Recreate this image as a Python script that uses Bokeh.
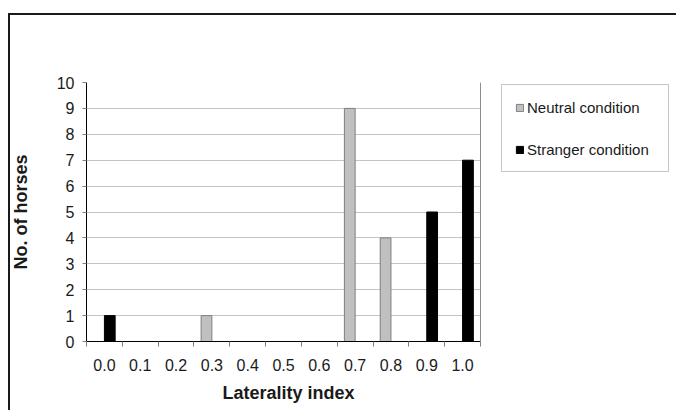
import numpy as np
from bokeh.plotting import figure
from bokeh.models import (ColumnDataSource, FixedTicker, Legend, LegendItem, Range1d, LinearAxis,
                          Span, BoxAnnotation, Title)
from bokeh.embed import file_html
from bokeh.resources import INLINE

# ---- data ----
categories = ["0.0", "0.1", "0.2", "0.3", "0.4", "0.5", "0.6", "0.7", "0.8", "0.9", "1.0"]
neutral = [0, 0, 0, 1, 0, 0, 0, 9, 4, 0, 0]
stranger = [1, 0, 0, 0, 0, 0, 0, 0, 0, 5, 7]
y_ticks = [0, 1, 2, 3, 4, 5, 6, 7, 8, 9, 10]
series_names = ["Neutral condition", "Stranger condition"]
x_title = "Laterality index"
y_title = "No. of horses"

FONT = "Liberation Sans"
TXT = "#1a1a1a"

# ---- layout (pixels) ----
W, H = 676, 410
LEFT, TOP, BOTTOM = 86, 82, 341       # plot-area edges
CAT_RIGHT = 480                        # right edge of the category area
n_cat = len(categories)
x_end = n_cat * (W - LEFT) / (CAT_RIGHT - LEFT)

centers = np.arange(n_cat) + 0.5
bar_w = 0.3

n_arr = np.array(neutral)
s_arr = np.array(stranger)
n_mask = n_arr > 0
s_mask = s_arr > 0

src_n = ColumnDataSource(dict(x=(centers - bar_w / 2)[n_mask], top=n_arr[n_mask]))
src_s = ColumnDataSource(dict(x=(centers + bar_w / 2)[s_mask], top=s_arr[s_mask]))

p = figure(width=W, height=H, output_backend="svg", toolbar_location=None,
           x_range=Range1d(0, x_end), y_range=Range1d(0, max(y_ticks)),
           min_border_left=LEFT, min_border_right=0, min_border_top=TOP,
           min_border_bottom=H - BOTTOM,
           x_axis_location=None, y_axis_location=None)
p.border_fill_alpha = 0
p.styles = {"box-shadow": "inset 8px 13px 0 0 #ffffff, inset 10px 15px 0 0 #1a1a1a",
            "background-color": "#ffffff"}
p.background_fill_color = "white"
p.outline_line_color = None

rn = p.vbar(x="x", top="top", width=bar_w, source=src_n, fill_color="#c0c0c0", line_color="#7f7f7f", line_width=1)
rs = p.vbar(x="x", top="top", width=bar_w, source=src_s, fill_color="black", line_color="black", line_width=1)

# blank area to the right of the plot area (legend zone) and the plot-area's right border
p.add_layout(BoxAnnotation(left=n_cat, fill_color="white", fill_alpha=1, line_color=None))
p.add_layout(Span(location=n_cat, dimension="height", line_color="#8c8c8c", line_width=1))

# y axis
yax = LinearAxis(ticker=FixedTicker(ticks=y_ticks, minor_ticks=[]))
yax.axis_line_color = "black"
yax.axis_line_width = 1
yax.major_tick_out = 4
yax.major_tick_in = 0
yax.major_tick_line_color = "#808080"
yax.minor_tick_out = 0
yax.minor_tick_in = 0
yax.major_label_standoff = 8
yax.major_label_text_font = FONT
yax.major_label_text_font_size = "16px"
yax.major_label_text_color = TXT
yax.axis_label = y_title
yax.axis_label_text_font = FONT
yax.axis_label_text_font_size = "18px"
yax.axis_label_text_font_style = "bold"
yax.axis_label_text_color = TXT
yax.axis_label_standoff = 23
p.add_layout(yax, "left")

# x axis: labels at category centers, tick marks at category boundaries
xax = LinearAxis(ticker=FixedTicker(ticks=list(centers), minor_ticks=list(range(n_cat + 1))),
                 bounds=(0, n_cat))
xax.major_label_overrides = {float(c): lab for c, lab in zip(centers, categories)}
xax.axis_line_color = "black"
xax.axis_line_width = 1
xax.major_tick_out = 0
xax.major_tick_in = 0
xax.minor_tick_out = 5
xax.minor_tick_in = 0
xax.minor_tick_line_color = "#808080"
xax.major_label_standoff = 12
xax.major_label_text_font = FONT
xax.major_label_text_font_size = "16px"
xax.major_label_text_color = TXT
p.add_layout(xax, "below")

# x-axis title, placed under the category area
xt = Title(text=x_title, align="left", offset=136, standoff=15,
           text_font=FONT, text_font_size="18px", text_font_style="bold", text_color=TXT)
p.add_layout(xt, "below")

p.xgrid.visible = False
p.ygrid.ticker = FixedTicker(ticks=y_ticks)
p.ygrid.grid_line_color = "#c4c4c4"
p.ygrid.grid_line_width = 1

legend = Legend(items=[LegendItem(label=series_names[0], renderers=[rn]),
                       LegendItem(label=series_names[1], renderers=[rs])],
                location=(415, 169), orientation="vertical")
legend.margin = 0
legend.padding = 13
legend.spacing = 24
legend.glyph_width = 9
legend.glyph_height = 9
legend.label_standoff = 3
legend.label_width = 128
legend.label_height = 18
legend.label_text_font = FONT
legend.label_text_font_size = "15px"
legend.label_text_color = TXT
legend.border_line_color = "#8c8c8c"
legend.border_line_width = 1
legend.background_fill_color = "white"
legend.background_fill_alpha = 1
p.add_layout(legend, "center")

open("out.html", "w").write(file_html(p, INLINE))
